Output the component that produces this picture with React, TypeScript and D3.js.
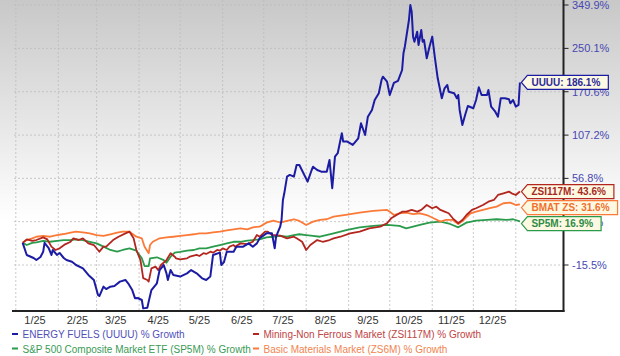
import React from 'react';
import * as d3 from 'd3';

const W = 620;
const H = 356;

const MONTH_LABELS = ['1/25', '2/25', '3/25', '4/25', '5/25', '6/25', '7/25', '8/25', '9/25', '10/25', '11/25', '12/25'];
const Y_TICKS = [349.9, 250.1, 170.6, 107.2, 56.8, 16.6, -15.5];
const OFFSET = 141.6;

// [days since 2025-01-01, % growth]
const UUUU: [number, number][] = [
  [5, 0], [8, -8.7], [13, -10.8], [15, -12.2], [18, -10.1], [20, -6.4], [21, 0.0], [24, -3.8], [26, -8.7], [27, -5.2],
  [30, -8.7], [32, -7.3], [35, -10.8], [37, -12.2], [41, -13.3], [44, -15.5], [49, -17.7], [53, -21.9], [57, -25.0], [60, -33.8],
  [61, -34.4], [64, -29.0], [66, -30.4], [69, -29.0], [72, -28.6], [76, -26.0], [80, -25.0], [82, -27.0], [85, -31.0], [87, -35.6],
  [89, -35.5], [92, -36.6], [93, -41.1], [96, -40.8], [97, -37.5], [99, -31.0], [103, -27.0], [105, -18.8], [108, -15.5], [110, -20.9],
  [111, -25.0], [113, -18.8], [115, -21.9], [120, -22.9], [125, -20.9], [128, -18.8], [132, -20.9], [136, -24.0], [139, -25.0], [142, -22.9],
  [144, -8.7], [149, -7.1], [150, -15.5], [152, -13.5], [154, -6.4], [159, -6.4], [161, -2.8], [166, -2.8], [170, -0.4], [173, -2.8],
  [176, -0.4], [178, 3.4], [183, 7.2], [187, 7.2], [189, -4.0], [190, 4.6], [193, 12.5], [194, 18.0], [195, 35.6], [196, 41.9],
  [198, 58.6], [200, 60.4], [203, 58.6], [205, 71.2], [207, 71.2], [210, 62.2], [213, 53.5], [216, 65.7], [217, 69.3], [220, 65.7],
  [223, 63.9], [227, 63.9], [229, 76.9], [231, 46.8], [233, 80.7], [235, 84.7], [238, 109.6], [239, 98.9], [242, 98.9], [246, 94.7],
  [250, 103.1], [252, 123.1], [255, 107.4], [257, 132.4], [260, 142.2], [262, 157.4], [265, 168.1], [267, 190.4], [268, 196.2], [271, 187.5],
  [273, 165.3], [276, 185.3], [279, 188.9], [282, 208.2], [283, 240.2], [284, 253.6], [287, 312.8], [288, 349.9], [289, 333.0], [290, 274.9],
  [291, 264.1], [293, 285.8], [294, 257.1], [296, 289.6], [297, 264.1], [298, 267.7], [300, 230.2], [302, 253.5], [304, 274.9], [306, 230.2],
  [308, 193.4], [311, 160.1], [313, 176.3], [315, 181.8], [316, 170.7], [320, 168.1], [322, 160.1], [323, 165.3], [324, 142.2], [326, 120.8],
  [328, 134.9], [330, 148.2], [334, 144.7], [336, 157.4], [338, 178.0], [340, 165.3], [344, 165.3], [345, 173.5], [347, 147.2], [350, 139.7],
  [352, 132.4], [354, 160.1], [357, 160.1], [360, 158.5], [361, 152.3], [363, 157.4], [365, 147.2], [367, 149.7], [368, 186.1],
];

const ZSI117M: [number, number][] = [
  [5, 0], [8, 2.6], [12, 1.4], [15, 2.1], [20, 4.1], [23, 2.6], [26, -2.8], [29, -5.2], [32, -4.0], [36, -1.1],
  [40, 0.8], [42, 3.4], [46, 2.1], [49, 3.4], [53, -0.4], [57, -1.6], [60, -5.2], [61, -6.4], [64, -2.8], [66, -2.8],
  [71, 2.1], [75, 4.6], [80, 7.2], [83, 8.5], [86, 3.4], [88, -5.2], [91, -12.2], [93, -23.9], [96, -25.0], [97, -26.0],
  [99, -17.7], [102, -16.6], [104, -18.8], [106, -15.5], [110, -12.2], [113, -7.5], [116, -9.9], [117, -11.0], [120, -11.7], [125, -11.0],
  [127, -9.9], [132, -8.7], [134, -9.4], [137, -7.5], [139, -8.0], [142, -6.4], [144, -7.1], [147, -5.2], [149, -5.7], [151, -4.0],
  [154, -5.2], [156, -2.8], [159, -1.6], [160, -2.8], [164, -0.4], [169, -0.9], [173, 0.8], [176, 5.9], [178, 4.6], [182, 8.5],
  [184, 8.5], [187, 5.9], [189, 5.9], [193, 5.5], [198, 3.4], [203, 4.6], [205, 3.4], [209, 0.8], [212, -5.2], [215, -1.6],
  [220, 2.1], [224, 0.8], [229, 2.1], [232, 3.4], [237, 4.6], [244, 7.2], [251, 8.5], [258, 11.2], [266, 12.5], [271, 15.3],
  [274, 19.4], [278, 22.2], [282, 25.1], [285, 25.1], [289, 26.6], [293, 25.1], [296, 26.6], [300, 31.0], [304, 28.1], [307, 29.5],
  [310, 26.6], [313, 25.1], [316, 23.7], [319, 19.4], [323, 15.3], [326, 18.0], [329, 22.2], [333, 26.6], [336, 28.1], [341, 31.0],
  [345, 34.0], [349, 35.6], [352, 40.3], [356, 41.9], [360, 43.5], [362, 41.9], [365, 40.3], [368, 43.6],
];

const ZS6M: [number, number][] = [
  [5, 0], [8, 2.1], [12, 3.4], [15, 4.6], [20, 5.2], [25, 4.6], [30, 5.9], [35, 6.7], [40, 7.8], [44, 8.5],
  [49, 8.0], [54, 7.2], [59, 5.9], [64, 5.2], [69, 6.5], [74, 7.8], [78, 8.5], [83, 8.5], [88, 4.6], [92, 3.4],
  [94, -2.8], [97, -7.5], [98, -1.6], [100, 0.8], [105, 3.4], [110, 4.1], [115, 4.6], [120, 5.2], [125, 5.9], [130, 6.5],
  [134, 7.2], [139, 7.2], [144, 7.9], [149, 8.5], [154, 9.5], [159, 10.4], [164, 11.2], [169, 10.4], [173, 12.0], [178, 12.5],
  [183, 15.8], [188, 17.4], [193, 15.9], [198, 17.2], [203, 18.6], [207, 17.2], [212, 13.9], [217, 16.6], [222, 18.0], [227, 18.6],
  [232, 20.8], [242, 22.6], [251, 24.2], [261, 25.7], [271, 26.6], [273, 25.1], [276, 22.2], [280, 23.7], [285, 24.2], [290, 23.0],
  [295, 23.7], [300, 22.2], [305, 19.4], [310, 16.6], [314, 18.0], [319, 18.0], [323, 14.7], [327, 18.0], [332, 23.7], [336, 25.1],
  [341, 26.6], [346, 28.1], [351, 29.5], [356, 32.6], [361, 33.2], [365, 31.0], [368, 31.6],
];

const SP5M: [number, number][] = [
  [5, 0], [8, -1.6], [12, 0], [15, 0.4], [20, 1.4], [25, 0.8], [30, 1.4], [35, 2.1], [40, 2.1], [44, 2.6],
  [49, 2.1], [54, 0.8], [59, -0.4], [64, -2.8], [69, -5.2], [74, -6.4], [78, -5.2], [83, -4.0], [88, -5.7], [92, -11.0],
  [94, -16.2], [97, -16.2], [98, -11.0], [103, -10.3], [108, -12.2], [110, -14.0], [113, -9.9], [116, -7.1], [120, -6.6], [125, -5.7],
  [130, -5.2], [134, -4.0], [139, -4.0], [144, -2.8], [149, -1.6], [154, -0.4], [159, 0.8], [164, 0.8], [169, 1.6], [173, 2.1],
  [178, 2.6], [183, 4.1], [188, 4.6], [193, 5.2], [198, 4.6], [203, 5.9], [207, 6.5], [212, 5.9], [217, 5.2], [222, 4.6],
  [232, 7.2], [242, 9.9], [251, 12.0], [261, 13.1], [271, 13.9], [280, 13.1], [285, 11.2], [290, 12.5], [295, 13.9], [302, 15.8],
  [310, 16.6], [317, 14.7], [323, 12.0], [329, 15.8], [336, 17.4], [344, 18.0], [351, 18.6], [358, 18.0], [363, 18.6], [368, 16.9],
];

const SERIES = [
  { tag: 'SP5M', legend: 'S&P 500 Composite Market ETF (SP5M) % Growth', data: SP5M, color: '#2a9a4b', text: '#2e8c46', legendText: '#3a9a55', width: 1.8 },
  { tag: 'BMAT ZS', legend: 'Basic Materials Market (ZS6M) % Growth', data: ZS6M, color: '#fb7a38', text: '#f0702c', legendText: '#f08450', width: 1.8 },
  { tag: 'ZSI117M', legend: 'Mining-Non Ferrous Market (ZSI117M) % Growth', data: ZSI117M, color: '#b3261f', text: '#a52a1e', legendText: '#c04444', width: 1.8 },
  { tag: 'UUUU', legend: 'ENERGY FUELS (UUUU) % Growth', data: UUUU, color: '#1b1ca3', text: '#2a2a98', legendText: '#5050b8', width: 2 },
];

const LEGEND_ORDER = ['UUUU', 'ZSI117M', 'SP5M', 'BMAT ZS'];

const FONT = '"Liberation Sans", Arial, Helvetica, sans-serif';
const PLOT_LEFT = 14;
const PLOT_RIGHT = 563.5;
const PLOT_BOTTOM = 311;

function measure(text: string, font: string): number {
  const c = document.createElement('canvas').getContext('2d');
  if (!c) return text.length * 6;
  c.font = font;
  return c.measureText(text).width;
}

export default function App() {
  const base = Date.UTC(2025, 0, 1);
  const x = d3.scaleUtc().domain([new Date(base), new Date(Date.UTC(2026, 0, 1))]).range([15.8, 515.8]);
  const dayDate = (d: number) => new Date(base + d * 86400000);
  const yLog = d3.scaleLog()
    .domain([Y_TICKS[Y_TICKS.length - 1] + OFFSET, Y_TICKS[0] + OFFSET])
    .range([265, 5]);
  const y = (v: number) => yLog(v + OFFSET);

  const months = d3.utcMonth.range(new Date(base), new Date(Date.UTC(2026, 0, 2)));
  const line = d3.line<[number, number]>()
    .x((d) => x(dayDate(d[0])))
    .y((d) => y(d[1]));

  const ends = SERIES.map((s) => {
    const last = s.data[s.data.length - 1];
    return { ...s, v: last[1], day: last[0], cy: y(last[1]) };
  }).sort((a, b) => a.cy - b.cy);
  for (let i = 1; i < ends.length; i++) {
    if (ends[i].cy < ends[i - 1].cy + 16) ends[i].cy = ends[i - 1].cy + 16;
  }

  const calloutFont = `bold 10px ${FONT}`;

  return (
    <svg width={W} height={H} style={{ position: 'absolute', left: 0, top: 0, display: 'block' }} fontFamily={FONT}>
      <defs>
        <linearGradient id="bg" x1="0" y1="0" x2="0" y2="1">
          <stop offset="0" stopColor="#c8c8c8" />
          <stop offset="0.62" stopColor="#ffffff" />
          <stop offset="1" stopColor="#ffffff" />
        </linearGradient>
      </defs>
      <rect x={0} y={0} width={W} height={H} fill="url(#bg)" />

      {/* vertical grid */}
      {months.map((m, i) => (
        <line key={'vg' + i} x1={x(m)} x2={x(m)} y1={0} y2={PLOT_BOTTOM} stroke="#bdbdbd" strokeWidth={0.8} strokeDasharray="2,2" />
      ))}
      {/* horizontal grid */}
      {Y_TICKS.map((t, i) => (
        <line key={'hg' + i} x1={PLOT_LEFT} x2={PLOT_RIGHT} y1={y(t)} y2={y(t)} stroke="#bdbdbd" strokeWidth={0.8} strokeDasharray="2,2" />
      ))}

      {/* axes */}
      <line x1={PLOT_RIGHT} x2={PLOT_RIGHT} y1={0} y2={PLOT_BOTTOM + 1} stroke="#222" strokeWidth={2} />
      <line x1={PLOT_LEFT - 2} x2={PLOT_RIGHT + 1} y1={PLOT_BOTTOM} y2={PLOT_BOTTOM} stroke="#222" strokeWidth={2} />

      {Y_TICKS.map((t, i) => (
        <g key={'yt' + i}>
          <line x1={PLOT_RIGHT} x2={PLOT_RIGHT + 5} y1={y(t)} y2={y(t)} stroke="#222" strokeWidth={1} />
          <text x={572} y={y(t) + 4} fontSize={11} fill="#4848b2">{`${t.toFixed(1)}%`}</text>
        </g>
      ))}

      {MONTH_LABELS.map((lab, i) => (
        <text key={'xl' + i} x={x(d3.utcDay.offset(months[i], 14))} y={323.5} fontSize={11} fill="#333" textAnchor="middle">{lab}</text>
      ))}

      {/* lines */}
      {SERIES.map((s) => (
        <path key={s.tag} d={line(s.data) || ''} fill="none" stroke={s.color} strokeWidth={s.width} strokeLinejoin="round" />
      ))}

      {/* callouts */}
      {ends.map((e) => {
        const label = `${e.tag}: ${e.v.toFixed(1)}%`;
        const tip = x(dayDate(e.day)) + 1.5;
        const tw = measure(label, calloutFont);
        const right = tip + 10 + tw + 8;
        const h = 7;
        const d = `M${tip},${e.cy} L${tip + 6},${e.cy - h} L${right},${e.cy - h} L${right},${e.cy + h} L${tip + 6},${e.cy + h} Z`;
        return (
          <g key={'co' + e.tag}>
            <path d={d} fill="#fdf8e2" stroke={e.color} strokeWidth={1.2} />
            <text x={tip + 10} y={e.cy + 3.6} fontSize={10} fontWeight="bold" fill={e.text}>{label}</text>
          </g>
        );
      })}

      {/* legend */}
      {LEGEND_ORDER.map((tag, i) => {
        const s = SERIES.find((q) => q.tag === tag)!;
        const col = i % 2;
        const row = Math.floor(i / 2);
        const lx = col === 0 ? 12 : 253;
        const ly = row === 0 ? 338 : 352.5;
        return (
          <g key={'lg' + tag}>
            <rect x={lx} y={ly - 5} width={6} height={2} fill={s.color} />
            <text x={lx + 10.5} y={ly} fontSize={10} fill={s.legendText}>{s.legend}</text>
          </g>
        );
      })}
    </svg>
  );
}
